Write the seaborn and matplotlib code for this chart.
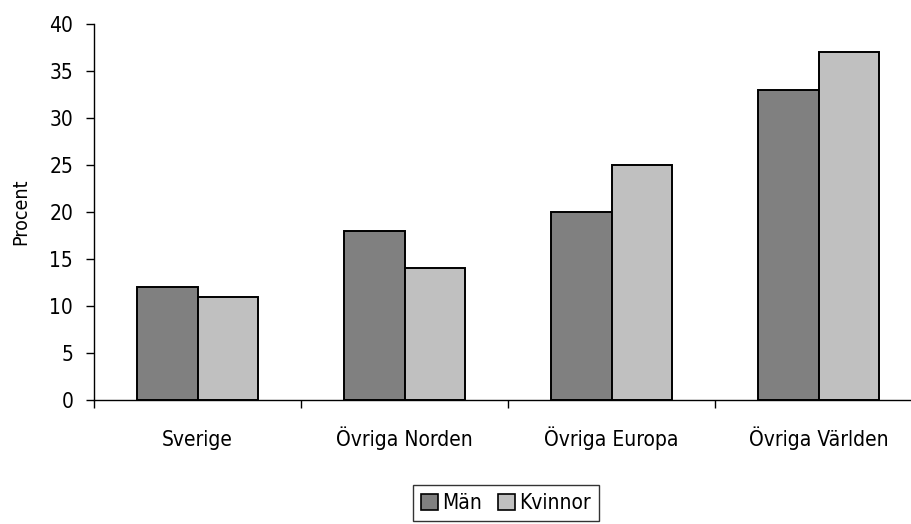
import matplotlib
matplotlib.use("Agg")
import matplotlib.pyplot as plt
import seaborn as sns
import pandas as pd
import numpy as np
from matplotlib.ticker import FixedLocator

regions = ["Sverige", "Övriga Norden", "Övriga Europa", "Övriga Världen"]
man = [12, 18, 20, 33]
kvinnor = [11, 14, 25, 37]
series = ["Män", "Kvinnor"]
colors = ["#808080", "#c0c0c0"]
yticks = [0, 5, 10, 15, 20, 25, 30, 35, 40]

df = pd.DataFrame({
    "region": regions * 2,
    "kon": [series[0]] * len(regions) + [series[1]] * len(regions),
    "procent": man + kvinnor,
})

sns.set_style("white")
plt.rcParams["font.family"] = ["DejaVu Sans"]
plt.rcParams["font.stretch"] = "condensed"
plt.rcParams["text.color"] = "black"
plt.rcParams["xtick.color"] = "black"
plt.rcParams["ytick.color"] = "black"
plt.rcParams["axes.labelcolor"] = "black"

fig = plt.figure(figsize=(9.12, 5.24), dpi=100)
# plot area spans 94..922 px horizontally, 24..400 px vertically
ax = fig.add_axes([94 / 912, 1 - 400 / 524, 828 / 912, 376 / 524])

sns.barplot(data=df, x="region", y="procent", hue="kon", order=regions,
            hue_order=series, palette=colors, width=0.58, gap=0,
            edgecolor="black", linewidth=1.4, saturation=1, ax=ax)

ax.set_xlim(-0.5, len(regions) - 0.5)
ax.set_ylim(0, 40)
ax.set_yticks(yticks)
ax.set_yticklabels([str(v) for v in yticks], fontsize=15)
ax.tick_params(axis="y", length=6, width=1, color="black", pad=9, direction="out", left=True)
ax.tick_params(axis="x", which="major", length=0, pad=33, labelsize=15)
for lbl in ax.get_xticklabels():
    lbl.set_verticalalignment("baseline")
ax.xaxis.set_minor_locator(FixedLocator(np.arange(-0.5, len(regions) + 0.5, 1)))
ax.tick_params(axis="x", which="minor", length=6, width=1, color="black", bottom=True, direction="out")

for s in ["top", "right"]:
    ax.spines[s].set_visible(False)
for s in ["left", "bottom"]:
    ax.spines[s].set_color("black")
    ax.spines[s].set_linewidth(1)

ax.set_xlabel("")
ax.set_ylabel("Procent", fontsize=14, labelpad=14)

ax.legend_.remove()
handles = [plt.Rectangle((0, 0), 1, 1, facecolor=c, edgecolor="black", linewidth=1.2) for c in colors]
leg = fig.legend(handles, series, loc="center", bbox_to_anchor=(506 / 912, 1 - 503 / 524),
                 ncol=2, frameon=True, fancybox=False, edgecolor="black", fontsize=15,
                 handlelength=0.8, handleheight=0.8, handletextpad=0.2, columnspacing=0.8,
                 borderpad=0.4, borderaxespad=0)
leg.get_frame().set_linewidth(1)

fig.savefig("out.png", dpi=100)
